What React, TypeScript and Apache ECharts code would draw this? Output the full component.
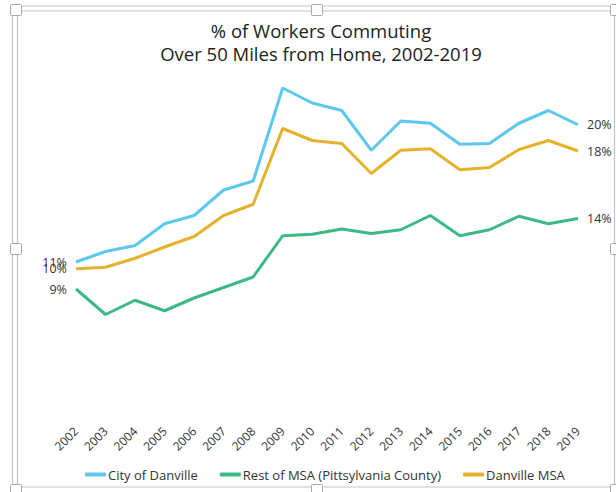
import React, { useEffect, useRef } from "react";
import * as echarts from "echarts";

const years = ["2002","2003","2004","2005","2006","2007","2008","2009","2010","2011","2012","2013","2014","2015","2016","2017","2018","2019"];
const cityOfDanville = [10.8,11.5,11.9,13.35,13.9,15.6,16.2,22.4,21.4,20.9,18.25,20.2,20.05,18.65,18.7,20.05,20.9,19.95];
const restOfMSA = [9.0,7.3,8.25,7.55,8.4,9.1,9.8,12.55,12.65,13.0,12.7,12.95,13.9,12.55,12.95,13.85,13.35,13.7];
const danvilleMSA = [10.35,10.45,11.05,11.8,12.5,13.9,14.65,19.7,18.9,18.7,16.7,18.25,18.35,16.95,17.1,18.3,18.9,18.2];

const seriesNames = ["City of Danville", "Rest of MSA (Pittsylvania County)", "Danville MSA"];
const seriesColors = ["#5cc8ec", "#3dba83", "#e5b22b"];

const FONT = "Open Sans";

function withEndLabels(values: number[]) {
  const last = values.length - 1;
  return values.map((v, i) => {
    if (i === 0 || i === last) {
      return {
        value: v,
        label: {
          show: true,
          position: i === 0 ? "left" : "right",
          distance: 9,
          formatter: Math.round(v) + "%",
          color: "#333",
          fontSize: 12.5,
          fontFamily: FONT,
        },
      };
    }
    return v;
  });
}

function handle(x: number, y: number) {
  return {
    type: "rect",
    shape: { x: x - 5.5, y: y - 5.5, width: 11, height: 11, r: 1 },
    style: { fill: "#ffffff", stroke: "#a8a8a8", lineWidth: 1 },
    z: 100,
  };
}

function frameLine(x1: number, y1: number, x2: number, y2: number) {
  return {
    type: "line",
    shape: { x1, y1, x2, y2 },
    style: { stroke: "#c4c4c4", lineWidth: 1.2 },
    z: 90,
  };
}

export default function App() {
  const ref = useRef<HTMLDivElement>(null);
  useEffect(() => {
    if (!ref.current) return;
    const chart = echarts.init(ref.current, undefined, { renderer: "svg" });
    const allSeries = [cityOfDanville, restOfMSA, danvilleMSA];
    chart.setOption({
      animation: false,
      backgroundColor: "#ffffff",
      title: {
        text: "% of Workers Commuting\nOver 50 Miles from Home, 2002-2019",
        left: 316,
        top: 14,
        textAlign: "center",
        textStyle: { fontFamily: FONT, fontSize: 18.5, fontWeight: "normal", color: "#222", lineHeight: 23 },
      },
      legend: {
        data: seriesNames,
        left: 80,
        top: 463,
        icon: "roundRect",
        itemWidth: 21,
        itemHeight: 4,
        itemGap: 22,
        textStyle: { fontFamily: FONT, fontSize: 13, color: "#333", padding: [0, 0, 0, -3] },
      },
      grid: { left: 76, right: 38, top: 49, bottom: 68, containLabel: false },
      xAxis: {
        type: "category",
        data: years,
        boundaryGap: false,
        axisLine: { show: false },
        axisTick: { show: false },
        axisLabel: { rotate: 45, margin: 5, fontSize: 12, color: "#333", fontFamily: FONT, interval: 0 },
        splitLine: { show: false },
      },
      yAxis: {
        type: "value",
        min: 0,
        max: 25,
        show: false,
        splitLine: { show: false },
      },
      series: allSeries.map((vals, i) => ({
        name: seriesNames[i],
        type: "line",
        data: withEndLabels(vals),
        symbol: "circle",
        symbolSize: 0.1,
        showSymbol: true,
        lineStyle: { width: 3, color: seriesColors[i] },
        itemStyle: { color: seriesColors[i] },
        label: { show: false },
        emphasis: { disabled: true },
      })),
      graphic: [
        frameLine(12.5, 6, 12.5, 492),
        frameLine(17.5, 11, 17.5, 487),
        frameLine(12.5, 6, 616, 6),
        frameLine(17.5, 11, 616, 11),
        frameLine(17.5, 487, 616, 487),
        frameLine(614.5, 11, 614.5, 487),
        handle(16, 10),
        handle(317, 10),
        handle(616, 10),
        handle(16, 249),
        handle(616, 249),
        handle(16, 490),
        handle(317, 490),
        handle(616, 490),
      ],
    });
    return () => chart.dispose();
  }, []);
  return (
    <div
      ref={ref}
      style={{ position: "fixed", left: 0, top: 0, width: 616, height: 492 }}
    />
  );
}
